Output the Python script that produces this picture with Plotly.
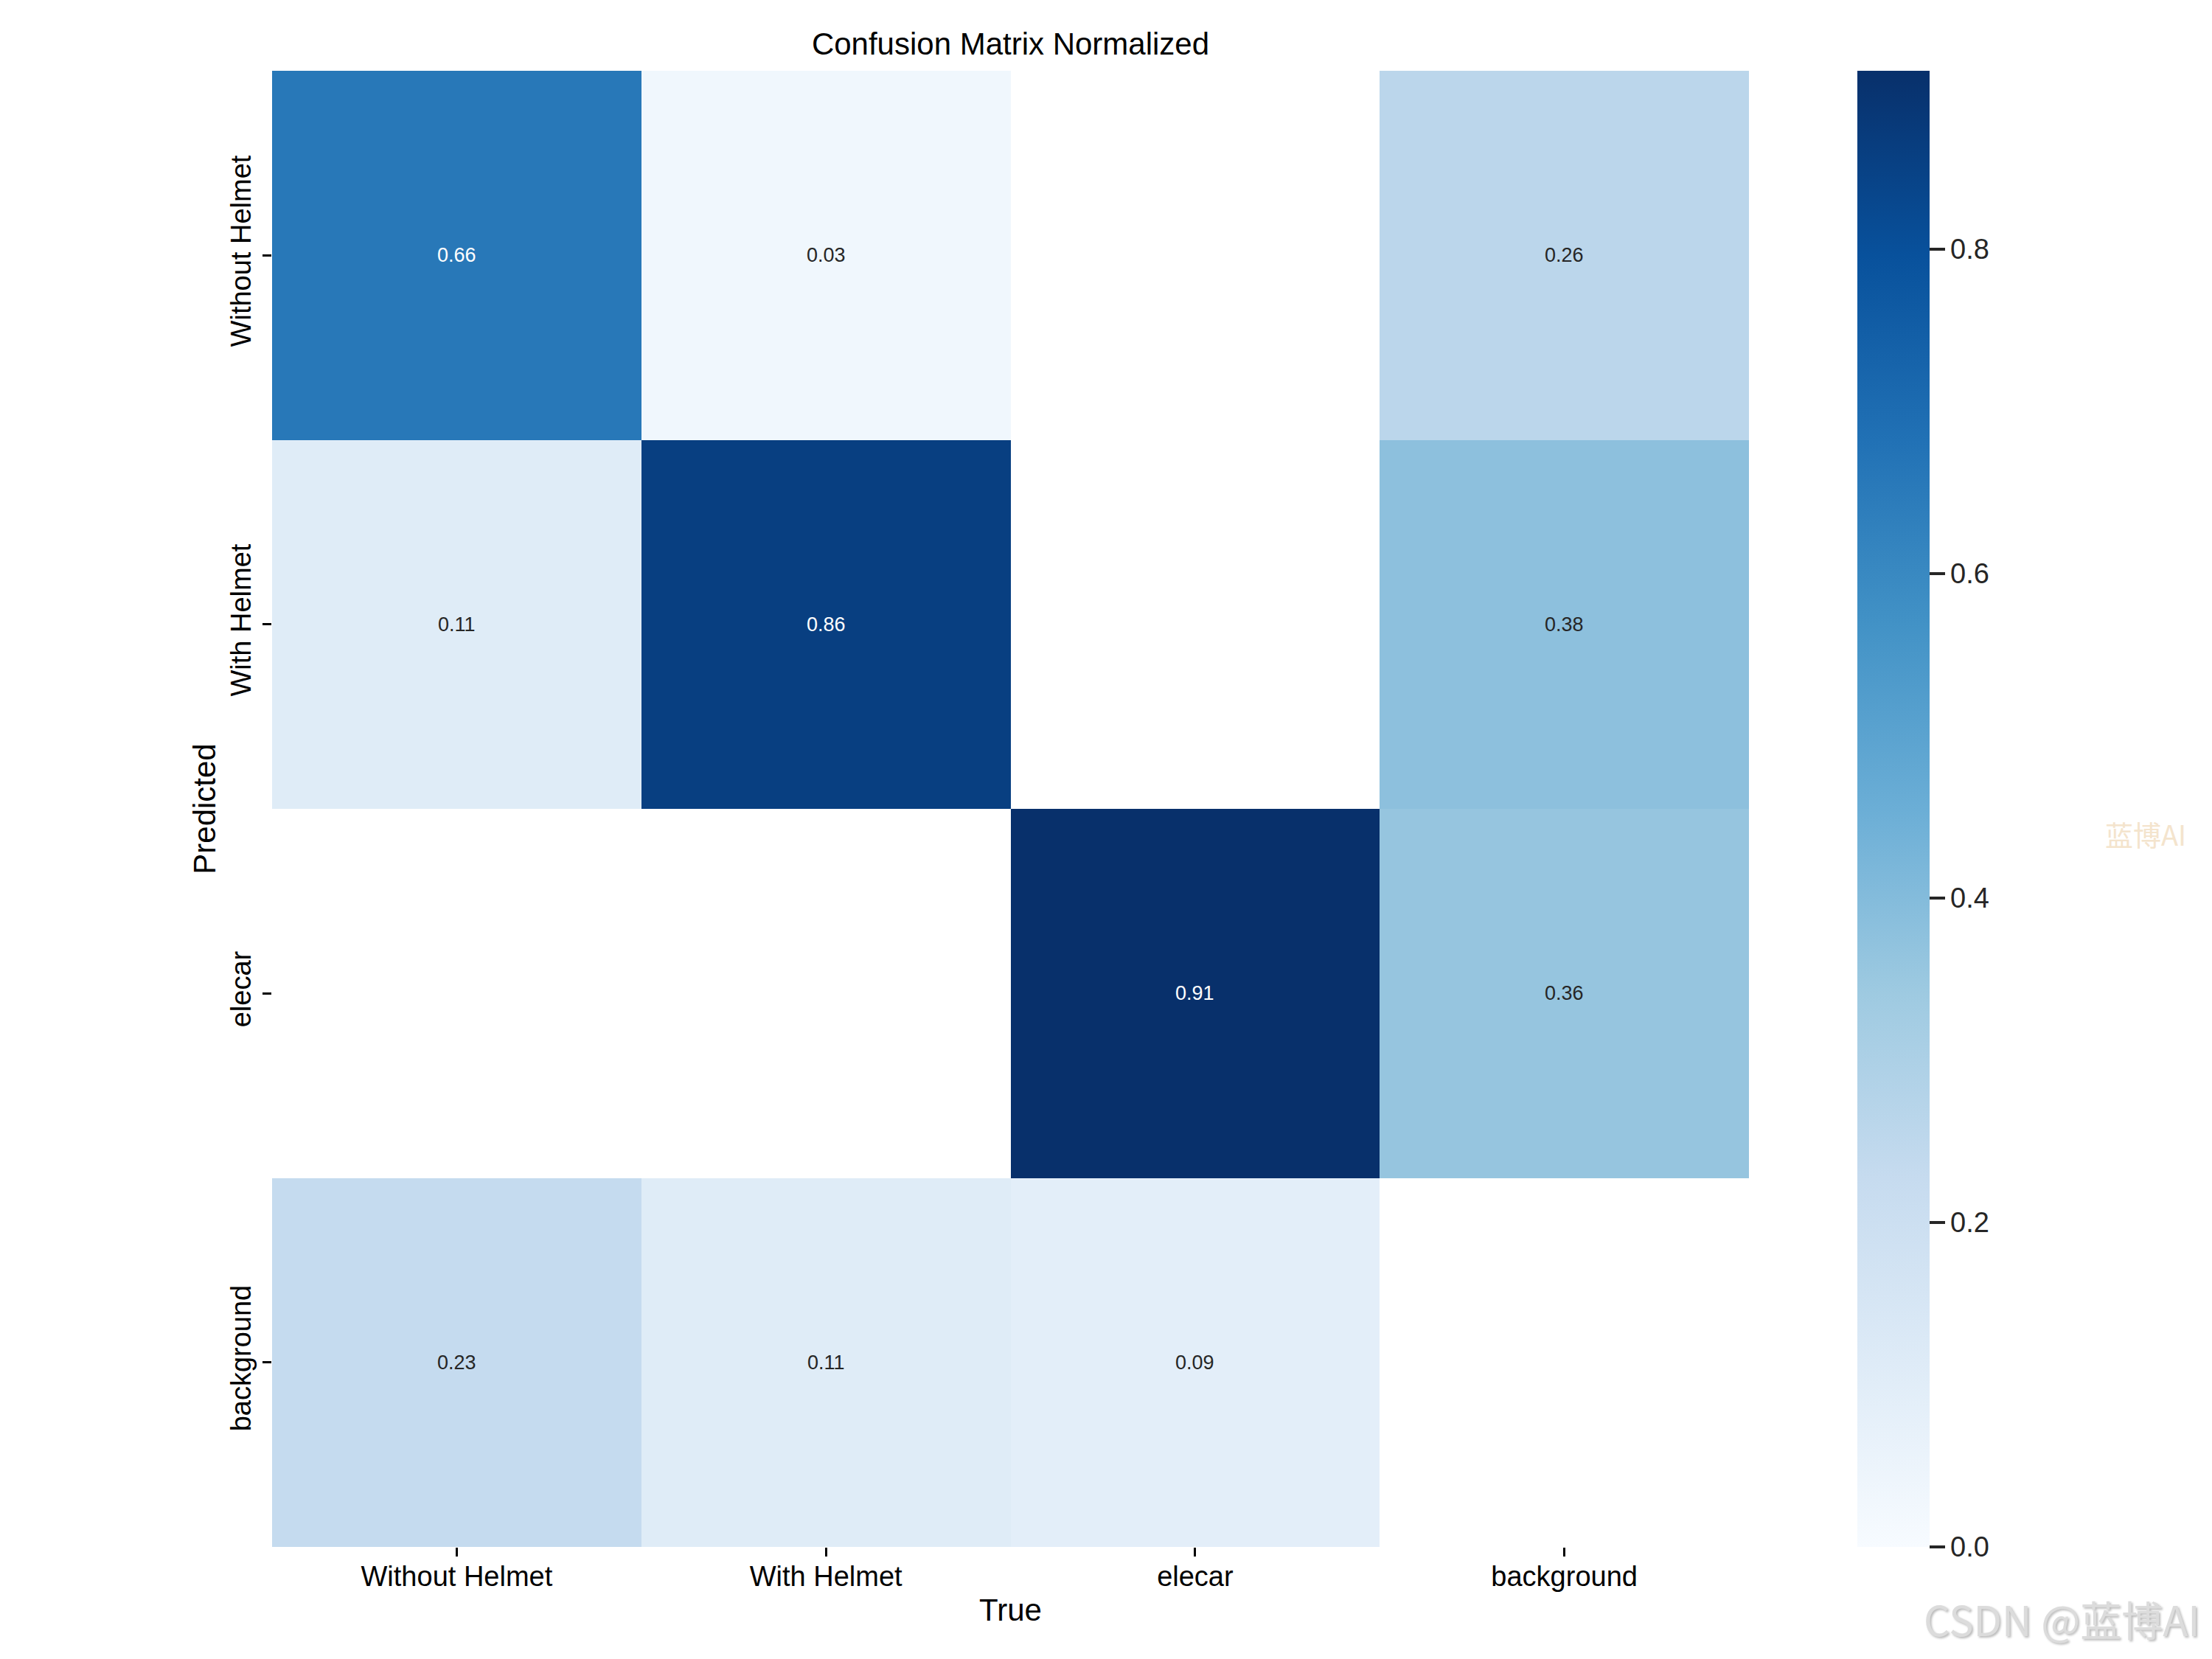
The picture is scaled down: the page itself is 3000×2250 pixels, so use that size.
import plotly.graph_objects as go

# confusion matrix (rows = Predicted, columns = True); None = blank cell
labels = ["Without Helmet", "With Helmet", "elecar", "background"]
row_without_helmet = [0.66, 0.03, None, 0.26]
row_with_helmet = [0.11, 0.86, None, 0.38]
row_elecar = [None, None, 0.91, 0.36]
row_background = [0.23, 0.11, 0.09, None]
cbar_ticks = [0.0, 0.2, 0.4, 0.6, 0.8]

matrix = [row_without_helmet, row_with_helmet, row_elecar, row_background]

fig = go.Figure()
fig.add_trace(go.Heatmap(
    z=matrix,
    x=labels,
    y=labels,
    colorscale="Blues",
    zmin=0,
    zmax=0.91,
    hoverongaps=False,
    colorbar=dict(
        x=1.0734, xanchor="left", xpad=0,
        y=0.5, yanchor="middle", ypad=0,
        len=1, lenmode="fraction",
        thickness=98, thicknessmode="pixels",
        outlinewidth=0,
        tickvals=cbar_ticks,
        tickformat=".1f",
        ticks="outside", ticklen=21, tickwidth=4, tickcolor="#262626",
        tickfont=dict(size=38, color="#262626", family="Liberation Sans, Arial"),
    ),
))

# cell values
annots = []
for i, row in enumerate(matrix):
    for j, v in enumerate(row):
        if v is None:
            continue
        annots.append(dict(
            x=labels[j], y=labels[i], text="%.2f" % v, showarrow=False,
            font=dict(size=27, color="white" if v > 0.6 else "#262626",
                      family="Liberation Sans, Arial"),
        ))

# watermarks
annots.append(dict(
    xref="paper", yref="paper", x=1.2686, y=0.4835, text="蓝博AI",
    showarrow=False, xanchor="center", yanchor="middle",
    font=dict(size=38, color="#F4E4CD", family="Noto Sans CJK SC"),
))
annots.append(dict(
    xref="paper", yref="paper", x=1.2117, y=-0.048, text="CSDN @蓝博AI",
    showarrow=False, xanchor="center", yanchor="middle",
    font=dict(size=56, color="#DCDCDC", family="Noto Sans CJK SC",
              shadow="2px 2px 3px #BBBBBB"),
))

fig.update_layout(
    width=3000, height=2250,
    margin=dict(l=361, r=636, t=88, b=160),
    paper_bgcolor="white", plot_bgcolor="white",
    font=dict(family="Liberation Sans, Arial", color="black"),
    title=dict(text="Confusion Matrix Normalized", x=0.5, xref="paper",
               xanchor="center", y=1 - 51 / 2250, yanchor="middle",
               yref="container", font=dict(size=42, color="black")),
    annotations=annots,
    xaxis=dict(
        title=dict(text="True", font=dict(size=42), standoff=10),
        tickfont=dict(size=38), ticks="outside", ticklen=12, tickwidth=3,
        tickcolor="black", ticklabelstandoff=-6,
        showgrid=False, zeroline=False, showline=False, automargin=False,
    ),
    yaxis=dict(
        title=dict(text="Predicted", font=dict(size=42), standoff=0),
        tickfont=dict(size=38), tickangle=-90, ticks="outside", ticklen=12,
        tickwidth=3, tickcolor="black", ticklabelstandoff=1,
        showgrid=False, zeroline=False, showline=False,
        autorange="reversed", automargin=False,
    ),
)

fig.write_html("out.html")
